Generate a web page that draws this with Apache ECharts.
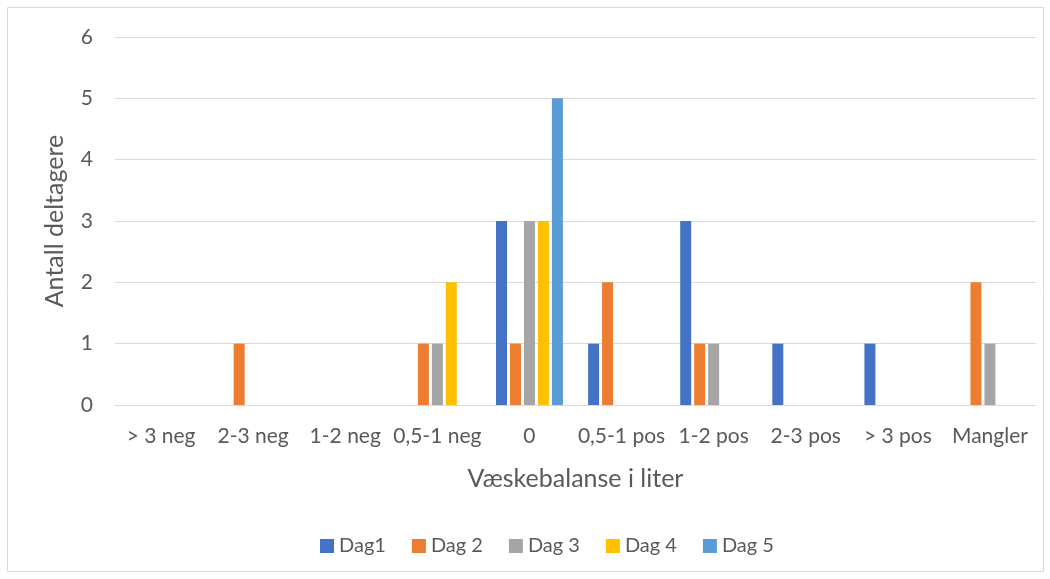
<!DOCTYPE html>
<html>
<head>
<meta charset="utf-8">
<script src="https://cdn.jsdelivr.net/npm/echarts@6/dist/echarts.min.js"></script>
<style>
  html, body { margin: 0; padding: 0; background: #fff; }
  #chart { width: 1050px; height: 579px; }
</style>
</head>
<body>
<div id="chart"></div>
<script>
// Fluid balance categories (litres)
const categories = ['> 3 neg', '2-3 neg', '1-2 neg', '0,5-1 neg', '0', '0,5-1 pos', '1-2 pos', '2-3 pos', '> 3 pos', 'Mangler'];
const seriesNames = ['Dag1', 'Dag 2', 'Dag 3', 'Dag 4', 'Dag 5'];
const dag1 = [0, 0, 0, 0, 3, 1, 3, 1, 1, 0];
const dag2 = [0, 1, 0, 1, 1, 2, 1, 0, 0, 2];
const dag3 = [0, 0, 0, 1, 3, 0, 1, 0, 0, 1];
const dag4 = [0, 0, 0, 2, 3, 0, 0, 0, 0, 0];
const dag5 = [0, 0, 0, 0, 5, 0, 0, 0, 0, 0];
const colors = ['#4472C4', '#ED7D31', '#A5A5A5', '#FFC000', '#5B9BD5'];

const font = 'Lato, "Open Sans", sans-serif';
const textColor = '#595959';

const chart = echarts.init(document.getElementById('chart'));
chart.setOption({
  animation: false,
  color: colors,
  textStyle: { fontFamily: font },
  graphic: [{
    type: 'rect',
    shape: { x: 7.5, y: 7.5, width: 1036, height: 564 },
    style: { fill: 'none', stroke: '#D9D9D9', lineWidth: 1 },
    silent: true
  }],
  grid: { left: 115, right: 14, top: 37, bottom: 174 },
  legend: {
    bottom: 18,
    left: 315,
    itemWidth: 14,
    itemHeight: 14,
    itemGap: 26,
    icon: 'rect',
    textStyle: { color: textColor, fontSize: 20, fontFamily: font }
  },
  xAxis: {
    type: 'category',
    data: categories,
    name: 'Væskebalanse i liter',
    nameLocation: 'middle',
    nameGap: 61,
    nameTextStyle: { color: textColor, fontSize: 25, fontFamily: font },
    axisLine: { lineStyle: { color: '#D9D9D9', width: 1 } },
    axisTick: { show: false },
    axisLabel: { color: textColor, fontSize: 21, margin: 21, fontFamily: font, interval: 0 }
  },
  yAxis: {
    type: 'value',
    min: 0,
    max: 6,
    interval: 1,
    name: 'Antall deltagere',
    nameLocation: 'middle',
    nameGap: 48,
    nameTextStyle: { color: textColor, fontSize: 25, fontFamily: font },
    axisLine: { show: false },
    axisTick: { show: false },
    axisLabel: { color: textColor, fontSize: 21, margin: 22, fontFamily: font },
    splitLine: { lineStyle: { color: '#D9D9D9', width: 1 } }
  },
  // zero counts are left empty so no sliver is drawn on the axis
  series: [dag1, dag2, dag3, dag4, dag5].map((d, i) => ({
    name: seriesNames[i],
    type: 'bar',
    data: d.map(v => (v === 0 ? '-' : v)),
    barWidth: 11,
    barGap: '27%'
  }))
});
</script>
</body>
</html>
